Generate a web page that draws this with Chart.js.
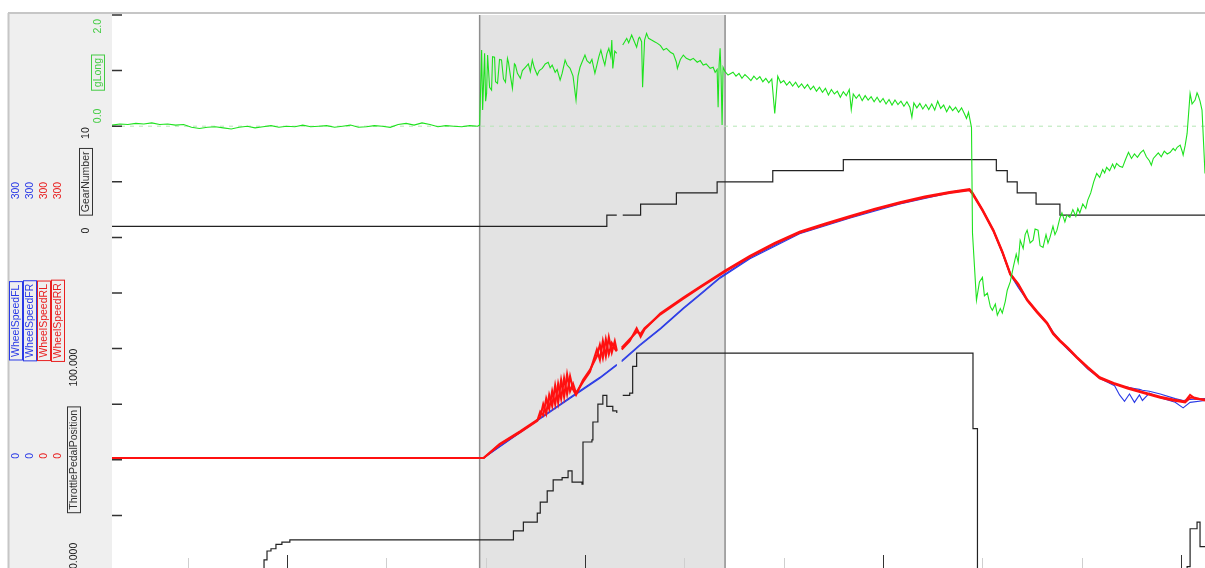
<!DOCTYPE html>
<html>
<head>
<meta charset="utf-8">
<script src="https://cdn.jsdelivr.net/npm/chart.js@4.4.1/dist/chart.umd.min.js"></script>
<style>
html, body { margin: 0; padding: 0; background: #fff; overflow: hidden; }
#wrap { position: relative; width: 1205px; height: 571px; }
</style>
</head>
<body>
<div id="wrap"><canvas id="chart"></canvas></div>
<script>
// distance along the lap (m)
const selStart = 294, selEnd = 541;
const distTicks = [0, 100, 200, 300, 400, 500, 600, 700, 800, 900, 1000];

// gLong trace as [distance, g] pairs
const gLongTrace = [
  [-76,0.02],[-68,0.04],[-60,0.03],[-52,0.05],[-44,0.04],[-36,0.06],[-28,0.03],[-20,0.04],[-12,0.02],[-4,0.03],
  [4,-0.02],[12,-0.04],[20,-0.02],[28,-0.01],[36,-0.03],[44,-0.05],[52,-0.02],[60,0.0],[68,-0.03],[76,-0.01],
  [84,0.01],[92,-0.02],[100,0.0],[108,-0.01],[116,0.02],[124,-0.01],[132,0.0],[140,0.01],[148,-0.02],[156,0.0],
  [164,0.02],[172,-0.02],[180,-0.01],[188,0.01],[196,0.0],[204,-0.02],[212,0.03],[220,0.05],[228,0.02],[236,0.06],
  [244,0.03],[252,-0.01],[260,0.01],[268,0.0],[276,-0.01],[284,0.01],[292,0.0],
  [294,0.02],[296,1.37],[297,0.29],[299,1.31],[300,0.45],[301,0.59],[302,1.28],[304,0.70],[306,0.65],[307,1.25],
  [309,1.24],[310,0.80],[312,0.77],[314,1.20],[316,1.19],[318,0.85],[320,0.79],[322,1.22],[323,1.15],[325,0.90],
  [327,0.68],[329,1.12],[330,1.10],[332,0.95],[335,0.86],[337,1.00],[340,1.06],[343,1.12],[345,0.98],[347,1.19],
  [349,1.05],[352,0.92],[354,1.00],[357,1.04],[360,1.12],[363,1.15],[365,1.05],[367,1.10],[370,0.97],[372,1.02],
  [375,0.83],[377,0.95],[380,1.19],[382,1.10],[385,1.04],[388,0.90],[391,0.47],[393,0.90],[395,1.06],[397,1.15],
  [400,1.28],[402,1.18],[405,1.13],[407,1.20],[410,0.95],[412,1.10],[414,1.25],[416,1.37],[418,1.22],[420,1.10],
  [422,1.30],[424,1.40],[426,1.25],[427,1.55],[428,1.04],[430,1.35],[432,1.31],[435,null],[438,1.46],[440,1.52],
  [442,1.58],[444,1.50],[447,1.64],[449,1.55],[452,1.42],[454,1.58],[455,1.60],[457,1.52],[458,0.70],[460,1.55],
  [462,1.67],[464,1.58],[467,1.55],[470,1.52],[473,1.49],[476,1.45],[479,1.37],[482,1.40],[486,1.33],[489,1.30],
  [492,1.15],[493,1.04],[496,1.20],[499,1.28],[502,1.22],[506,1.19],[509,1.22],[513,1.15],[516,1.18],[519,1.10],
  [522,1.12],[526,1.04],[529,1.06],[531,0.97],[533,1.02],[534,0.34],[535,1.10],[536,1.40],[537,0.90],[538,0.02],
  [539,1.06],[541,0.98],[544,0.92],
  [549,0.97],[552,0.90],[555,0.95],[558,0.86],[561,0.93],[564,0.88],[567,0.82],[570,0.90],[573,0.84],[576,0.89],
  [579,0.80],[582,0.86],[585,0.78],[588,0.85],[591,0.23],[594,0.90],[597,0.78],[600,0.82],[603,0.74],[606,0.80],
  [609,0.72],[612,0.79],[615,0.70],[618,0.76],[621,0.68],[624,0.75],[627,0.66],[630,0.72],[633,0.63],[636,0.70],
  [639,0.61],[642,0.68],[645,0.56],[648,0.66],[651,0.58],[654,0.63],[657,0.52],[660,0.62],[663,0.55],[666,0.66],
  [668,0.30],[670,0.58],[673,0.50],[676,0.57],[679,0.46],[682,0.55],[685,0.47],[688,0.53],[691,0.44],[694,0.52],
  [697,0.43],[700,0.50],[703,0.40],[706,0.48],[709,0.38],[712,0.47],[715,0.39],[718,0.45],[721,0.36],[724,0.44],
  [727,0.34],[729,0.16],[731,0.42],[734,0.33],[737,0.41],[740,0.31],[743,0.39],[746,0.30],[749,0.40],[752,0.29],
  [755,0.45],[758,0.32],[761,0.38],[764,0.26],[767,0.36],[770,0.28],[773,0.34],[776,0.25],[779,0.33],[782,0.22],
  [784,0.14],[786,0.25],[789,-0.02],
  [790,-1.92],[794,-3.13],[797,-2.80],[800,-2.72],[802,-3.05],[805,-3.00],[808,-3.25],[810,-3.31],[813,-3.20],[815,-3.40],
  [818,-3.28],[820,-3.36],[823,-3.15],[825,-2.95],[828,-2.80],[831,-2.54],[834,-2.30],[836,-2.45],[838,-2.05],[841,-2.20],
  [843,-1.95],[845,-1.87],[848,-2.10],[851,-2.05],[853,-1.85],[856,-1.87],[858,-2.15],[861,-2.18],[864,-1.95],[866,-2.10],
  [868,-2.00],[871,-1.80],[873,-1.95],[875,-1.87],[878,-1.65],[880,-1.56],[883,-1.72],[885,-1.60],[888,-1.64],[891,-1.50],
  [894,-1.62],[896,-1.48],[898,-1.56],[901,-1.40],[904,-1.48],[906,-1.33],[909,-1.20],[912,-1.00],[915,-0.85],[918,-0.92],
  [921,-0.78],[923,-0.84],[925,-0.74],[928,-0.80],[931,-0.68],[933,-0.76],[935,-0.67],[938,-0.72],[941,-0.74],[944,-0.60],
  [947,-0.47],[950,-0.58],[953,-0.50],[956,-0.56],[959,-0.48],[962,-0.43],[965,-0.55],[968,-0.62],[970,-0.70],[972,-0.58],
  [975,-0.52],[977,-0.48],[980,-0.55],[983,-0.45],[986,-0.50],[989,-0.47],[992,-0.40],[994,-0.44],[996,-0.38],[999,-0.34],
  [1001,-0.45],[1002,-0.52],[1004,-0.35],[1006,-0.13],[1009,0.59],[1011,0.40],[1014,0.47],[1016,0.60],[1017,0.56],[1019,0.45],
  [1021,0.29],[1024,-0.85]
];

const gearDist = [-76, 422, 432, 435, 438, 456, 492, 533, 589, 660, 814, 825, 835, 854, 878, 1024];
const gearVal = [1, 2, 2, null, 2, 3, 4, 5, 6, 7, 6, 5, 4, 3, 2, 2];

const throttleDist = [-76,75,77,80,84,89,95,103,328,338,352,355,362,368,377,383,387,397,398,407,408,413,418,422,428,432,435,438,445,448,452,790,790.5,794,795,1004,1006,1009,1016,1019,1024];
const throttleVal = [0,0,5,9,10,12,13,14,18,22,26,31,36,41,42,45,40,39,58,59,67,75,79,74,72,71,null,79,80,92,98,98,64,64,0,0,2,19,22,11,11];

const rearDist = [-76,298,314,335,352,355,358,361,364,367,370,373,376,379,382,385,388,391,398,405,412,415,418,421,424,427,430,432,435,437,445,452,456,460,476,499,516,541,566,591,616,642,667,692,717,742,767,787,790,
  800,811,820,828,836,845,855,865,871,878,886,895,906,918,932,946,962,979,992,1004,1009,1014,1024];
const speedRL = [2,2,17,31,43,46,60,50,70,58,80,62,86,68,92,74,82,72,84,95,119,108,128,112,132,116,128,118,null,119,128,142,133,141,158,175,187,204,220,234,246,255,263,271,278,284,289,292,288,
  270,248,225,201,190,173,160,148,137,129,121,111,100,89,83,78,73,68,65,63,70,66,65];
const speedRR = [2,2,16,30,42,52,48,66,55,74,60,82,66,88,71,90,76,70,86,97,112,124,110,130,114,126,120,117,null,121,130,138,136,142,157,174,186,203,219,233,245,254,262,270,277,283,288,291,287,
  269,247,224,200,189,172,159,147,136,128,120,110,99,88,82,77,72,67,64,62,67,67,64];

const frontDist = [-76,298,352,390,415,432,435,437,455,476,499,516,536,566,616,667,717,767,787,790,
  800,811,820,828,836,845,855,865,871,878,886,895,906,918,933,938,943,948,953,958,961,968,979,994,1002,1009,1024];
const speedFL = [2,2,43,71,89,103,null,107,124,142,164,179,197,218,245,262,277,289,292,288,
  270,248,224,201,187,173,160,148,138,129,120,111,99,89,82,80,79,78,77,76,75,74,71,66,64,65,66];
const speedFR = [2,2,42,70,88,102,null,106,123,141,163,178,196,217,244,261,276,288,291,287,
  269,247,223,200,186,172,159,147,137,128,119,110,98,88,80,70,63,71,62,70,64,72,67,62,56,62,64];

// channel ranges shown in the left panel
const gLongRange = [0, 2];
const gearRange = [0, 10];
const speedRange = [0, 300];
const throttleRange = [0, 100];

function pts(xs, ys) {
    return xs.map(function(x, i) { return {x: x, y: ys[i]}; });
}

const GREEN = '#1ee21e', BLUE = '#2a3ae6', RED = '#ff1010';
const FONT = '10.5px "Liberation Sans", Arial, sans-serif';

function vText(ctx, str, x, y, align, color, box) {
    ctx.save();
    ctx.translate(x, y);
    ctx.rotate(-Math.PI / 2);
    ctx.font = FONT;
    ctx.textAlign = align;
    ctx.textBaseline = 'middle';
    ctx.fillStyle = color;
    ctx.fillText(str, 0, 0.5);
    if (box) {
        let w = ctx.measureText(str).width;
        ctx.strokeStyle = color;
        ctx.lineWidth = 1;
        ctx.strokeRect(-w / 2 - 3, -6.5, w + 6, 13);
    }
    ctx.restore();
}

const panelPlugin = {
    id: 'panel',
    beforeDraw(chart) {
        let ctx = chart.ctx, a = chart.chartArea;
        let x = chart.scales.x;
        ctx.save();
        ctx.fillStyle = '#ffffff';
        ctx.fillRect(0, 0, chart.width, chart.height);
        // left label panel
        ctx.fillStyle = '#efefef';
        ctx.fillRect(8, 13, a.left - 8, chart.height - 13);
        // selected range
        let x0 = x.getPixelForValue(selStart), x1 = x.getPixelForValue(selEnd);
        ctx.fillStyle = '#e3e3e3';
        ctx.fillRect(x0, a.top, x1 - x0, a.bottom - a.top);
        ctx.strokeStyle = '#8e8e8e';
        ctx.lineWidth = 1.5;
        ctx.beginPath();
        ctx.moveTo(x0, a.top); ctx.lineTo(x0, a.bottom);
        ctx.moveTo(x1, a.top); ctx.lineTo(x1, a.bottom);
        ctx.stroke();
        // frame
        ctx.strokeStyle = '#c6c6c6';
        ctx.lineWidth = 2;
        ctx.beginPath();
        ctx.moveTo(8, 13); ctx.lineTo(chart.width, 13);
        ctx.moveTo(8.5, 13); ctx.lineTo(8.5, chart.height);
        ctx.stroke();
        // gLong zero line
        let yz = chart.scales.yG.getPixelForValue(0);
        ctx.strokeStyle = '#b4e6b4';
        ctx.lineWidth = 1;
        ctx.setLineDash([4, 5]);
        ctx.beginPath();
        ctx.moveTo(a.left, yz); ctx.lineTo(a.right, yz);
        ctx.stroke();
        ctx.restore();
    },
    afterDraw(chart) {
        let ctx = chart.ctx, a = chart.chartArea, s = chart.scales;
        ctx.save();
        // division ticks on the left edge
        ctx.strokeStyle = '#333';
        ctx.lineWidth = 1.5;
        ctx.beginPath();
        for (let i = 0; i <= 10; i++) {
            let y = s.yDiv.getPixelForValue(i);
            ctx.moveTo(a.left, y); ctx.lineTo(a.left + 10, y);
        }
        ctx.stroke();
        // distance ticks along the bottom
        distTicks.forEach(function(d) {
            let px = Math.round(s.x.getPixelForValue(d)) + 0.5;
            let major = (d / 100) % 3 === 1;
            ctx.strokeStyle = major ? '#333' : '#cfcfcf';
            ctx.lineWidth = 1;
            ctx.beginPath();
            ctx.moveTo(px, a.bottom - (major ? 16 : 13));
            ctx.lineTo(px, a.bottom);
            ctx.stroke();
        });

        // gLong
        let gTop = s.yG.getPixelForValue(gLongRange[1]), gBot = s.yG.getPixelForValue(gLongRange[0]);
        vText(ctx, gLongRange[1].toFixed(1), 98, gTop + 4, 'right', '#44cc44');
        vText(ctx, gLongRange[0].toFixed(1), 98, gBot - 3, 'left', '#44cc44');
        vText(ctx, 'gLong', 98, (gTop + gBot) / 2 + 2, 'center', '#44cc44', true);
        // gear
        let rTop = s.yGear.getPixelForValue(gearRange[1]), rBot = s.yGear.getPixelForValue(gearRange[0]);
        vText(ctx, String(gearRange[1]), 86, rTop + 1, 'right', '#222');
        vText(ctx, String(gearRange[0]), 86, rBot - 4, 'left', '#222');
        vText(ctx, 'GearNumber', 86, (rTop + rBot) / 2, 'center', '#333', true);
        // wheel speeds
        let wTop = s.yWheel.getPixelForValue(speedRange[1]), wBot = s.yWheel.getPixelForValue(speedRange[0]);
        let wNames = ['WheelSpeedFL', 'WheelSpeedFR', 'WheelSpeedRL', 'WheelSpeedRR'];
        let wCols = [BLUE, BLUE, '#e82020', '#e82020'];
        wNames.forEach(function(n, i) {
            let cx = 16 + i * 14;
            vText(ctx, String(speedRange[1]), cx, wTop, 'right', wCols[i]);
            vText(ctx, String(speedRange[0]), cx, wBot - 1, 'left', wCols[i]);
            vText(ctx, n, cx, (wTop + wBot) / 2, 'center', wCols[i], true);
        });
        // throttle
        let tTop = s.yThr.getPixelForValue(throttleRange[1]), tBot = s.yThr.getPixelForValue(throttleRange[0]);
        vText(ctx, throttleRange[1].toFixed(3), 74, tTop, 'right', '#222');
        vText(ctx, throttleRange[0].toFixed(3), 74, tBot - 2, 'left', '#222');
        vText(ctx, 'ThrottlePedalPosition', 74, (tTop + tBot) / 2, 'center', '#333', true);
        ctx.restore();
    }
};

new Chart(document.getElementById('chart'), {
    type: 'line',
    data: {
        datasets: [
            {label: 'gLong', data: gLongTrace.map(function(p) { return {x: p[0], y: p[1]}; }), yAxisID: 'yG', borderColor: GREEN, borderWidth: 1.1},
            {label: 'WheelSpeedRR', data: pts(rearDist, speedRR), yAxisID: 'yWheel', borderColor: RED, borderWidth: 2.1},
            {label: 'WheelSpeedRL', data: pts(rearDist, speedRL), yAxisID: 'yWheel', borderColor: RED, borderWidth: 2.1},
            {label: 'WheelSpeedFR', data: pts(frontDist, speedFR), yAxisID: 'yWheel', borderColor: BLUE, borderWidth: 1.1},
            {label: 'WheelSpeedFL', data: pts(frontDist, speedFL), yAxisID: 'yWheel', borderColor: BLUE, borderWidth: 1.1},
            {label: 'GearNumber', data: pts(gearDist, gearVal), yAxisID: 'yGear', borderColor: '#222', borderWidth: 1.2, stepped: true},
            {label: 'ThrottlePedalPosition', data: pts(throttleDist, throttleVal), yAxisID: 'yThr', borderColor: '#222', borderWidth: 1.2, stepped: true}
        ]
    },
    options: {
        responsive: true,
        maintainAspectRatio: false,
        animation: false,
        events: [],
        layout: {padding: {left: 112, top: 15, right: 0, bottom: 0}},
        elements: {point: {radius: 0}, line: {tension: 0, fill: false}},
        plugins: {legend: {display: false}, tooltip: {enabled: false}},
        scales: {
            x: {type: 'linear', min: -76, max: 1024, display: false},
            yG: {type: 'linear', min: -8, max: 2, display: false},
            yGear: {type: 'linear', min: -30, max: 20, display: false},
            yWheel: {type: 'linear', min: -120, max: 480, display: false},
            yThr: {type: 'linear', min: 0, max: 250, display: false},
            yDiv: {type: 'linear', min: 0, max: 10, display: false}
        }
    },
    plugins: [panelPlugin]
});
</script>
</body>
</html>
